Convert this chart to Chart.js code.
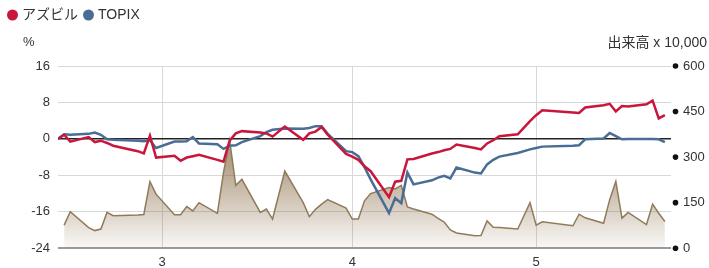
<!DOCTYPE html>
<html>
<head>
<meta charset="utf-8">
<script src="https://cdn.jsdelivr.net/npm/chart.js@4.4.1/dist/chart.umd.min.js"></script>
<style>
html,body{margin:0;padding:0;background:#fff;}
#wrap{width:709px;height:268px;position:relative;}
</style>
</head>
<body>
<div id="wrap"><canvas id="c" width="709" height="268"></canvas></div>
<script>
// ---- data ----
const dates = ['2/12','2/13','2/14','2/17','2/18','2/19','2/20','2/21','2/25','2/26','2/27','2/28',
  '3/3','3/4','3/5','3/6','3/7','3/10','3/11','3/12','3/13','3/14','3/17','3/18','3/19','3/21',
  '3/24','3/25','3/26','3/27','3/28','3/31',
  '4/1','4/2','4/3','4/4','4/7','4/8','4/9','4/10','4/11','4/14','4/15','4/16','4/17','4/18',
  '4/21','4/22','4/23','4/24','4/25','4/28','4/30',
  '5/1','5/2','5/7','5/8','5/9','5/12','5/13','5/14','5/15','5/16','5/19','5/20','5/21','5/22'];

const azbil = [0,0.9,-0.6,0.4,-0.7,-0.4,-0.9,-1.5,-2.7,-3.2,0.7,-4.1,
  -3.7,-4.8,-4.1,-3.8,-3.5,-4.6,-5.0,-0.4,1.2,1.7,1.4,1.2,0.5,2.7,
  -0.2,1.2,1.6,2.6,0.9,-3.3,
  -3.9,-4.6,-6.0,-7.1,-12.8,-9.4,-9.2,-4.5,-4.4,-3.2,-2.9,-2.5,-2.2,-1.25,
  -2.0,-2.3,-1.0,-0.3,0.6,1.0,3.9,
  5.2,6.3,5.8,5.7,6.9,7.4,7.7,6.0,7.2,7.1,7.6,8.4,4.5,5.2];

const topix = [0,1.0,0.9,1.1,1.4,0.9,-0.1,-0.2,-0.4,-0.5,-0.3,-2.0,
  -0.6,-0.6,-0.5,0.4,-1.0,-1.2,-2.2,-1.5,-1.4,-0.7,0.6,1.5,2.0,2.3,
  2.2,2.4,2.8,2.8,1.1,-2.7,
  -2.9,-3.8,-6.2,-8.9,-16.3,-13.0,-14.1,-7.4,-10.0,-9.1,-8.5,-8.1,-8.7,-6.3,
  -7.4,-7.6,-5.6,-4.6,-3.9,-3.1,-2.3,
  -2.0,-1.7,-1.5,-1.4,-0.1,0.1,1.3,0.6,-0.1,0.0,0.0,0.0,-0.1,-0.7];

// 出来高 (x 10,000)
const volume = [null,76,120,68,58,63,118,107,109,111,219,178,
  110,110,137,123,150,115,250,355,207,227,118,129,96,254,
  150,104,128,145,160,132,
  96,96,156,180,200,195,207,136,129,112,98,86,60,50,
  41,42,90,69,68,63,150,
  76,87,74,112,100,82,160,220,99,118,78,145,115,88];

const monthTicks = ['3/1','4/1','5/1'];
const monthLabels = ['3','4','5'];
const leftTicks = [-24,-16,-8,0,8,16];
const rightTicks = [0,150,300,450,600];
const axisStart = '2/12';
const axisEnd = '5/23';

// ---- helpers ----
function dayOffset(s){ // days counted from March 1st
  const p = s.split('/').map(Number);
  const cum = {2:-28, 3:0, 4:31, 5:61};
  return cum[p[0]] + p[1] - 1;
}
const pts = arr => dates.map((d,i)=>({x:dayOffset(d), y:arr[i]}));

const FONT = "'Liberation Sans', Arial, 'Noto Sans CJK JP', sans-serif";
Chart.defaults.font.family = FONT;
Chart.defaults.font.size = 13;
Chart.defaults.color = '#333';

const legendSpacer = {
  id:'legendSpacer',
  beforeInit(chart){
    const orig = chart.legend.fit;
    chart.legend.fit = function(){ orig.bind(chart.legend)(); this.height = 66; };
  }
};

const decorations = {
  id:'decorations',
  afterDraw(chart){
    const ctx = chart.ctx, a = chart.chartArea, y1 = chart.scales.y1;
    ctx.save();
    ctx.fillStyle = '#111';
    rightTicks.forEach(v=>{
      ctx.beginPath();
      ctx.arc(a.right + 4.5, y1.getPixelForValue(v), 2.8, 0, Math.PI*2);
      ctx.fill();
    });
    ctx.fillStyle = '#333';
    ctx.font = "13px " + FONT;
    ctx.textBaseline = 'middle';
    ctx.textAlign = 'left';
    ctx.fillText('%', 23, 42);
    ctx.textAlign = 'right';
    ctx.font = "14px " + FONT;
    ctx.fillText('出来高 x 10,000', 707, 43);
    ctx.restore();
  }
};

function volFill(context){
  const chart = context.chart, a = chart.chartArea;
  if(!a) return 'rgba(140,110,70,0.3)';
  const g = chart.ctx.createLinearGradient(0, a.top, 0, a.bottom);
  g.addColorStop(0, 'rgba(120,88,45,1)');
  g.addColorStop(0.55, 'rgba(120,88,45,0.55)');
  g.addColorStop(1, 'rgba(120,88,45,0.04)');
  return g;
}

new Chart(document.getElementById('c'), {
  type:'line',
  data:{
    datasets:[
      {label:'アズビル', data:pts(azbil), yAxisID:'y', borderColor:'#c8163c', backgroundColor:'#c8163c',
       borderWidth:2.5, pointRadius:0, tension:0, order:1},
      {label:'TOPIX', data:pts(topix), yAxisID:'y', borderColor:'#4a6d96', backgroundColor:'#4a6d96',
       borderWidth:2.5, pointRadius:0, tension:0, order:2},
      {label:'出来高', data:pts(volume), yAxisID:'y1', borderColor:'#8f7b5a', backgroundColor:volFill,
       borderWidth:1.5, pointRadius:0, tension:0, fill:'origin', order:3}
    ]
  },
  options:{
    responsive:false,
    animation:false,
    layout:{padding:{left:2, right:0, top:0, bottom:0}},
    plugins:{
      legend:{
        display:true, position:'top', align:'start',
        labels:{usePointStyle:true, pointStyle:'circle', boxWidth:5, boxHeight:6, padding:8,
                color:'#333', font:{size:14}, filter:item=>item.datasetIndex<2}
      },
      tooltip:{enabled:false}
    },
    scales:{
      x:{
        type:'linear', min:dayOffset(axisStart), max:dayOffset(axisEnd),
        afterBuildTicks:s=>{ s.ticks = monthTicks.map(t=>({value:dayOffset(t)})); },
        ticks:{callback:(v,i)=>monthLabels[i], padding:6, maxRotation:0, autoSkip:false, font:{size:13}},
        grid:{color:'#d8d8d8', drawTicks:false, lineWidth:1},
        border:{display:false},
        afterFit:s=>{ s.height = 19; }
      },
      y:{
        position:'left', min:-24, max:16,
        afterBuildTicks:s=>{ s.ticks = leftTicks.map(v=>({value:v})); },
        ticks:{padding:8, font:{size:13}},
        grid:{
          color:c=> c.tick.value===0 ? '#222' : (c.tick.value===-24 ? '#9a9a9a' : '#d8d8d8'),
          lineWidth:c=> c.tick.value===0 ? 1.5 : (c.tick.value===-24 ? 2 : 1),
          drawTicks:false
        },
        border:{display:false},
        afterFit:s=>{ s.width = 56; }
      },
      y1:{
        position:'right', min:0, max:600,
        afterBuildTicks:s=>{ s.ticks = rightTicks.map(v=>({value:v})); },
        ticks:{padding:12, font:{size:13}},
        grid:{display:false, drawTicks:false},
        border:{display:false},
        afterFit:s=>{ s.width = 38; }
      }
    }
  },
  plugins:[legendSpacer, decorations]
});
</script>
</body>
</html>
